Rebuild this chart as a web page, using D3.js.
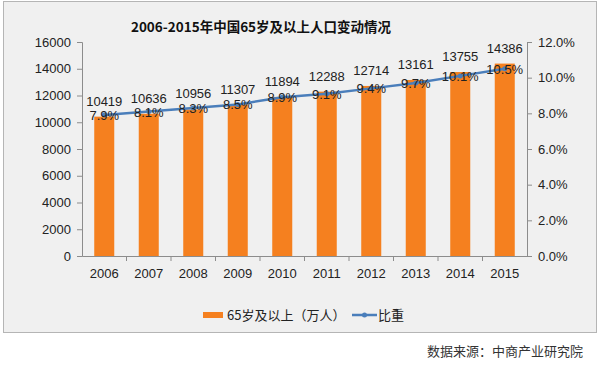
<!DOCTYPE html>
<html>
<head>
<meta charset="utf-8">
<script src="https://cdn.jsdelivr.net/npm/d3@7"></script>
<style>
  body { margin: 0; background: #fff; }
  svg { display: block; font-family: "Liberation Sans", "Noto Sans CJK SC", sans-serif; }
</style>
</head>
<body>
<svg id="chart" width="600" height="367"></svg>
<script>
// 数据
const years = ["2006", "2007", "2008", "2009", "2010", "2011", "2012", "2013", "2014", "2015"];
const population = [10419, 10636, 10956, 11307, 11894, 12288, 12714, 13161, 13755, 14386];
const ratio = [7.9, 8.1, 8.3, 8.5, 8.9, 9.1, 9.4, 9.7, 10.1, 10.5];
const leftTicks = [0, 2000, 4000, 6000, 8000, 10000, 12000, 14000, 16000];
const rightTicks = [0, 2, 4, 6, 8, 10, 12];

const svg = d3.select("#chart");
const barColor = "#f5801f", lineColor = "#4a7ebb", axisColor = "#8c8c8c";
const cjk = "'Noto Sans CJK SC', sans-serif";

// 外框
svg.append("rect")
  .attr("x", 3.5).attr("y", 1.5).attr("width", 593).attr("height", 331)
  .attr("fill", "#f0f0f0").attr("stroke", "#b5b5b5");

const padL = 82, padR = 527, padT = 42, padB = 256;

const x = d3.scaleBand().domain(years).range([padL, padR]).paddingInner(0.55).paddingOuter(0.275);
const y = d3.scaleLinear().domain([0, 16000]).range([padB, padT]);
const y2 = d3.scaleLinear().domain([0, 12]).range([padB, padT]);

// 标题
svg.append("text")
  .attr("x", 261).attr("y", 32)
  .attr("text-anchor", "middle")
  .style("font-family", cjk)
  .style("font-size", "13.5px").style("font-weight", "bold").attr("fill", "#111")
  .text("2006-2015年中国65岁及以上人口变动情况");

// 左轴
const gl = svg.append("g")
  .attr("transform", `translate(${padL},0)`)
  .call(d3.axisLeft(y).tickValues(leftTicks).tickSize(5).tickPadding(6).tickFormat(d => String(d)));
// 右轴
const gr = svg.append("g")
  .attr("transform", `translate(${padR},0)`)
  .call(d3.axisRight(y2).tickValues(rightTicks).tickSize(5).tickPadding(6).tickFormat(d => d.toFixed(1) + "%"));
// X轴
const gx = svg.append("g")
  .attr("transform", `translate(0,${padB})`)
  .call(d3.axisBottom(x).tickSize(0).tickPadding(13));
// 类别分隔刻度
svg.append("g").selectAll("line")
  .data(years.slice(1))
  .join("line")
  .attr("x1", d => x(d) - x.step() * x.paddingInner() / 2)
  .attr("x2", d => x(d) - x.step() * x.paddingInner() / 2)
  .attr("y1", padB).attr("y2", padB + 5)
  .attr("stroke", axisColor);

[gl, gr, gx].forEach(g => {
  g.select(".domain").attr("stroke", axisColor);
  g.selectAll(".tick line").attr("stroke", axisColor);
  g.selectAll(".tick text").attr("fill", "#222").style("font-size", "13px");
});

// 柱
svg.append("g").selectAll("rect")
  .data(years)
  .join("rect")
  .attr("x", d => x(d))
  .attr("width", x.bandwidth())
  .attr("y", (d, i) => y(population[i]))
  .attr("height", (d, i) => padB - y(population[i]))
  .attr("fill", barColor);

// 折线
const line = d3.line()
  .x((d, i) => x(years[i]) + x.bandwidth() / 2)
  .y(d => y2(d));
svg.append("path")
  .datum(ratio)
  .attr("fill", "none")
  .attr("stroke", lineColor)
  .attr("stroke-width", 2.5)
  .attr("d", line);
svg.append("g").selectAll("circle")
  .data(ratio)
  .join("circle")
  .attr("cx", (d, i) => x(years[i]) + x.bandwidth() / 2)
  .attr("cy", d => y2(d))
  .attr("r", 2.5)
  .attr("fill", lineColor);

// 数值标签
svg.append("g").selectAll("text")
  .data(population)
  .join("text")
  .attr("x", (d, i) => x(years[i]) + x.bandwidth() / 2)
  .attr("y", d => y(d) - 11)
  .attr("text-anchor", "middle")
  .style("font-size", "13px").attr("fill", "#222")
  .text(d => d);

svg.append("g").selectAll("text")
  .data(ratio)
  .join("text")
  .attr("x", (d, i) => x(years[i]) + x.bandwidth() / 2)
  .attr("y", d => y2(d) + 5)
  .attr("text-anchor", "middle")
  .style("font-size", "13px").attr("fill", "#222")
  .text(d => d.toFixed(1) + "%");

// 图例
const lg = svg.append("g").attr("transform", "translate(0,315)");
lg.append("rect").attr("x", 203).attr("y", -3).attr("width", 20).attr("height", 6).attr("fill", barColor);
lg.append("text").attr("x", 227).attr("y", 5)
  .style("font-family", cjk).style("font-size", "13px").attr("fill", "#222")
  .text("65岁及以上（万人）");
lg.append("line").attr("x1", 352).attr("x2", 377).attr("y1", 0).attr("y2", 0)
  .attr("stroke", lineColor).attr("stroke-width", 2.5);
lg.append("circle").attr("cx", 364.5).attr("cy", 0).attr("r", 2.5).attr("fill", lineColor);
lg.append("text").attr("x", 378).attr("y", 5)
  .style("font-family", cjk).style("font-size", "13px").attr("fill", "#222")
  .text("比重");

// 数据来源
svg.append("text")
  .attr("x", 583).attr("y", 356)
  .attr("text-anchor", "end")
  .style("font-family", cjk).style("font-size", "13px").attr("fill", "#333")
  .text("数据来源：中商产业研究院");
</script>
</body>
</html>
